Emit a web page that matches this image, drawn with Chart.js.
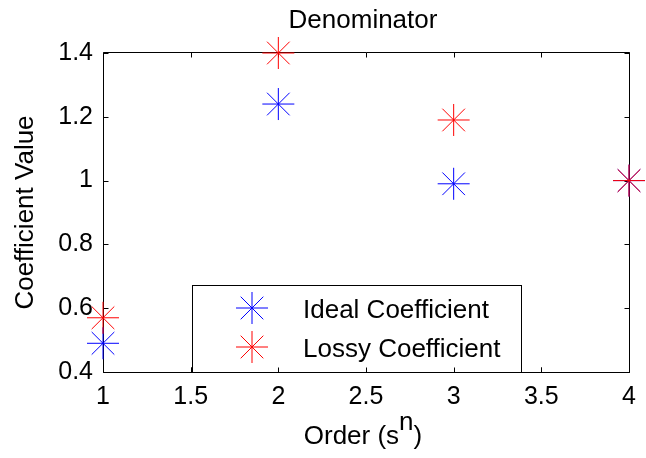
<!DOCTYPE html>
<html lang="en">
<head>
<meta charset="UTF-8">
<title>Denominator</title>
<script src="https://cdn.jsdelivr.net/npm/chart.js@4/dist/chart.umd.min.js"></script>
<style>
    html, body { margin: 0; padding: 0; background: #fff; }
</style>
</head>
<body>
<canvas id="wykres" width="646" height="458"></canvas>
<script>
// values
const orders = [1, 2, 3, 4];
const idealCoef = [0.49, 1.24, 0.99, 1.00];
const lossyCoef = [0.57, 1.40, 1.19, 1.00];
const seriesNames = ['Ideal Coefficient', 'Lossy Coefficient'];
const seriesColors = ['#0000ff', '#ff0000'];
const xTickValues = [1, 1.5, 2, 2.5, 3, 3.5, 4];
const xTickLabels = ['1', '1.5', '2', '2.5', '3', '3.5', '4'];
const yTickValues = [0.4, 0.6, 0.8, 1, 1.2, 1.4];
const yTickLabels = ['0.4', '0.6', '0.8', '1', '1.2', '1.4'];
const chartTitle = 'Denominator';
const yTitle = 'Coefficient Value';

const FONT = '"Liberation Sans", Arial, Helvetica, sans-serif';

function pts(ys) {
    return orders.map((o, i) => ({ x: o, y: ys[i] }));
}

// matlab style: box, inward ticks, title, labels, legend inside the axes
const matlabLook = {
    id: 'matlabLook',
    beforeDatasetsDraw(chart) {
        const ctx = chart.ctx;
        const a = chart.chartArea;
        const L = Math.round(a.left) + 0.5, R = Math.round(a.right) + 0.5;
        const T = Math.round(a.top) - 0.5, B = Math.round(a.bottom) + 0.5;
        ctx.save();
        ctx.strokeStyle = '#000';
        ctx.lineWidth = 1;
        ctx.beginPath();
        ctx.moveTo(L, T); ctx.lineTo(R, T); ctx.lineTo(R, B); ctx.lineTo(L, B); ctx.closePath();
        ctx.stroke();
        ctx.beginPath();
        xTickValues.forEach(v => {
            const px = Math.round(chart.scales.x.getPixelForValue(v)) + 0.5;
            ctx.moveTo(px, B); ctx.lineTo(px, B - 5);
            ctx.moveTo(px, T); ctx.lineTo(px, T + 5);
        });
        yTickValues.forEach(v => {
            const py = Math.round(chart.scales.y.getPixelForValue(v)) + 0.5;
            ctx.moveTo(L, py); ctx.lineTo(L + 5, py);
            ctx.moveTo(R, py); ctx.lineTo(R - 5, py);
        });
        ctx.stroke();
        ctx.restore();
    },
    afterDatasetsDraw(chart) {
        const ctx = chart.ctx;
        const a = chart.chartArea;
        const cx = (a.left + a.right) / 2 - 3;
        ctx.save();
        ctx.fillStyle = '#000';
        ctx.font = '26px ' + FONT;

        // title
        ctx.textAlign = 'center';
        ctx.textBaseline = 'alphabetic';
        ctx.fillText(chartTitle, cx, 28);

        // x title with superscript n
        const main = 'Order (s', sup = 'n', close = ')';
        const w1 = ctx.measureText(main).width;
        const w2 = ctx.measureText(sup).width;
        const w3 = ctx.measureText(close).width;
        let sx = cx - (w1 + w2 + w3) / 2;
        ctx.textAlign = 'left';
        ctx.fillText(main, sx, 444);
        ctx.fillText(sup, sx + w1, 430);
        ctx.fillText(close, sx + w1 + w2, 444);

        // y title
        ctx.save();
        ctx.translate(33, (a.top + a.bottom) / 2);
        ctx.rotate(-Math.PI / 2);
        ctx.textAlign = 'center';
        ctx.fillText(yTitle, 0, 0);
        ctx.restore();

        // legend box
        const lx = 192.5, ly = 285.5, lw = 329, lh = 87;
        ctx.fillStyle = '#fff';
        ctx.fillRect(lx, ly, lw, lh);
        ctx.strokeStyle = '#000';
        ctx.lineWidth = 1;
        ctx.strokeRect(lx, ly, lw, lh);
        const rows = [308, 347];
        seriesNames.forEach((name, i) => {
            ctx.strokeStyle = seriesColors[i];
            ctx.fillStyle = seriesColors[i];
            Chart.helpers.drawPoint(ctx, { pointStyle: 'star', radius: 16, borderWidth: 1, rotation: 0 }, 252, rows[i]);
            ctx.fillStyle = '#000';
            ctx.textAlign = 'left';
            ctx.textBaseline = 'alphabetic';
            ctx.fillText(name, 303, rows[i] + 9.5);
        });

        // bottom ticks peek through the legend edge
        ctx.strokeStyle = '#000';
        ctx.beginPath();
        const B = Math.round(a.bottom) + 0.5;
        xTickValues.forEach(v => {
            const px = Math.round(chart.scales.x.getPixelForValue(v)) + 0.5;
            ctx.moveTo(px, B); ctx.lineTo(px, B - 5);
        });
        ctx.stroke();
        ctx.restore();
    }
};

const ctx = document.getElementById('wykres').getContext('2d');
const wykres = new Chart(ctx, {
    type: 'scatter',
    data: {
        datasets: [
            {
                label: seriesNames[0],
                data: pts(idealCoef),
                borderColor: seriesColors[0],
                backgroundColor: seriesColors[0],
                pointStyle: 'star',
                pointRadius: 16,
                pointBorderWidth: 1,
                clip: false,
                order: 1
            },
            {
                label: seriesNames[1],
                data: pts(lossyCoef),
                borderColor: seriesColors[1],
                backgroundColor: seriesColors[1],
                pointStyle: 'star',
                pointRadius: 16,
                pointBorderWidth: 1,
                clip: false,
                order: 0
            }
        ]
    },
    options: {
        responsive: false,
        animation: false,
        events: [],
        layout: { padding: { top: 53, right: 16, left: 0, bottom: 0 } },
        plugins: { legend: { display: false }, tooltip: { enabled: false } },
        scales: {
            x: {
                type: 'linear',
                min: 1,
                max: 4,
                grid: { display: false, drawTicks: false },
                border: { display: false },
                afterBuildTicks: s => { s.ticks = xTickValues.map(v => ({ value: v })); },
                afterFit: s => { s.height = 86; },
                ticks: {
                    color: '#000',
                    font: { family: FONT, size: 25 },
                    padding: 10,
                    maxRotation: 0,
                    autoSkip: false,
                    callback: (v, i) => xTickLabels[i]
                }
            },
            y: {
                type: 'linear',
                min: 0.4,
                max: 1.4,
                grid: { display: false, drawTicks: false },
                border: { display: false },
                afterBuildTicks: s => { s.ticks = yTickValues.map(v => ({ value: v })); },
                afterFit: s => { s.width = 103; },
                ticks: {
                    color: '#000',
                    font: { family: FONT, size: 25 },
                    padding: 10,
                    autoSkip: false,
                    callback: (v, i) => yTickLabels[i]
                }
            }
        }
    },
    plugins: [matlabLook]
});
</script>
</body>
</html>
